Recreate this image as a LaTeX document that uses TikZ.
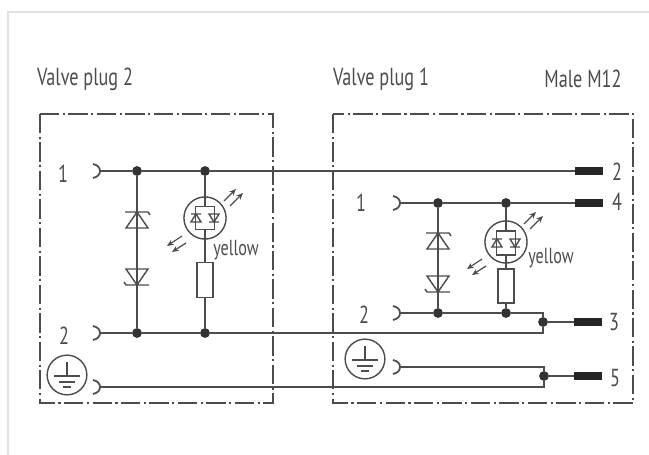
\documentclass[tikz,border=0pt]{standalone}
\usepackage{fontspec}
\setmainfont[FakeStretch=0.74]{PT Sans}
\usetikzlibrary{arrows.meta}
\definecolor{inkgrey}{gray}{0.3}
\tikzset{
  wire/.style={draw=inkgrey,line width=1pt},
  thin wire/.style={draw=inkgrey,line width=0.8pt},
  plugbox/.style={draw=inkgrey,line width=0.75pt,dash pattern=on 11pt off 2pt on 1.2pt off 2pt},
  dot/.style={circle,fill=black!80,inner sep=0pt,minimum size=5.6pt},
  pin/.style={rectangle,fill=black!85,inner sep=0pt,minimum width=16pt,minimum height=4.4pt},
  plain/.style={rectangle,draw=inkgrey,fill=white,line width=0.8pt,inner sep=0pt},
  tag/.style={text=inkgrey,inner sep=0pt,font={\fontsize{14}{16}\selectfont}},
  note/.style={text=inkgrey,inner sep=0pt,font={\fontsize{12.4}{14}\selectfont}},
  earth/.style={circle,draw=inkgrey,line width=0.8pt,inner sep=0pt,minimum size=22.6pt},
  ring/.style={circle,draw=inkgrey,line width=0.8pt,inner sep=0pt,minimum size=24pt},
  ray/.style={draw=inkgrey,line width=0.7pt,-{Stealth[length=3.8pt,width=3.2pt]}},
  socketend/.pic={\draw[wire] (-7,-7) .. controls (-2,-6) and (0,-3) .. (0,0) .. controls (0,3) and (-2,6) .. (-7,7);},
  zenerup/.pic={\draw[thin wire] (-11,16) -- (0,0) -- (11,16) -- cycle (-12,0) -- (11,0) -- (13,3);},
  zenerdown/.pic={\draw[thin wire] (-11,-16) -- (0,0) -- (11,-16) -- cycle (-13,-3) -- (-11,0) -- (12,0);},
  groundsign/.pic={\draw[thin wire] (0,-13) -- (0,1) (-13,1) -- (13,1) (-8,7) -- (8,7) (-4,12) -- (4,12);},
  minidiodes/.pic={\draw[thin wire] (-14,-4) -- (-4,-4) (-9,-4) -- (-14,4) -- (-4,4) -- cycle
    (4,-4) -- (14,-4) -- (9,4) -- cycle (4,4) -- (14,4);},
  lightrays/.pic={\draw[ray] (-9,8) -- (3,-4); \draw[ray] (-3,13) -- (10,0);},
  lightraysback/.pic={\draw[ray] (6,-8) -- (-9,2); \draw[ray] (10,-1) -- (-4,8);}
}
\begin{document}
\begin{tikzpicture}[x=0.02cm,y=-0.02cm]
\useasboundingbox (0,0) rectangle (649,455);
\draw[black!12,line width=0.9pt] (649,12) -- (8,12) -- (8,455);
% boxes
\draw[plugbox] (40,114) rectangle (273,403);
\draw[plugbox] (333,114) rectangle (633,403);
\node (titletwo) at (85,79) [tag] {Valve plug 2};
\node (titleone) at (381,79) [tag] {Valve plug 1};
\node (titlemale) at (583,79) [tag] {Male M12};
% plug 2
\coordinate (socktwoa) at (100,171);
\coordinate (socktwob) at (100,333);
\coordinate (socktwoe) at (100,387);
\node (jtwoa) at (137,171) [dot] {};
\node (jtwob) at (205,171) [dot] {};
\node (jtwoc) at (137,333) [dot] {};
\node (jtwod) at (205,333) [dot] {};
\node (ledtwo) at (205,218) [rectangle,draw=inkgrey,line width=0.8pt,inner sep=0pt,minimum width=11pt,minimum height=13pt] {};
\node (ringtwo) at (205,218) [ring] {};
\node (restwo) at (205,280) [plain,minimum width=9pt,minimum height=20pt] {};
\node (earthtwo) at (67,375) [earth] {};
\node (numtwoa) at (63,174) [tag] {1};
\node (numtwob) at (64,336) [tag] {2};
\node (yellowtwo) at (236,250) [note] {yellow};
% plug 1
\coordinate (sockonea) at (400,203);
\coordinate (sockoneb) at (400,313);
\coordinate (sockonee) at (400,367);
\node (jonea) at (438,203) [dot] {};
\node (joneb) at (506,203) [dot] {};
\node (jonec) at (438,313) [dot] {};
\node (joned) at (506,313) [dot] {};
\node (ledone) at (506,243) [rectangle,draw=inkgrey,line width=0.8pt,inner sep=0pt,minimum width=11pt,minimum height=13.5pt] {};
\node (ringone) at (506,242) [ring] {};
\node (resone) at (506,286) [plain,minimum width=9pt,minimum height=19.5pt] {};
\node (earthone) at (365,359) [earth] {};
\node (numonea) at (361,203) [tag] {1};
\node (numoneb) at (364,315) [tag] {2};
\node (yellowone) at (551,258) [note] {yellow};
% male side
\node (jmalea) at (543,322) [dot] {};
\node (jmaleb) at (544,376) [dot] {};
\node (pintwo) at (589,171) [pin] {};
\node (pinfour) at (589,203) [pin] {};
\node (pinthree) at (588,322) [pin] {};
\node (pinfive) at (588,376) [pin] {};
\node (numpa) at (617,172) [tag] {2};
\node (numpb) at (617,202) [tag] {4};
\node (numpc) at (614,322) [tag] {3};
\node (numpd) at (615,378) [tag] {5};
% wires
\draw[wire] (socktwoa) -- (jtwoa) -- (jtwob) -- (pintwo);
\draw[wire] (socktwob) -- (jtwoc) -- (jtwod) -- (jtwod -| jmalea) -- (jmalea);
\draw[wire] (socktwoe) -- (socktwoe -| jmaleb) -- (jmaleb);
\draw[thin wire] (jtwoa) -- (jtwoc);
\draw[thin wire] (jtwob) -- (ledtwo) -- (restwo) -- (jtwod);
\draw[wire] (sockonea) -- (jonea) -- (joneb) -- (pinfour);
\draw[wire] (sockoneb) -- (jonec) -- (joned) -- (joned -| jmalea) -- (jmalea);
\draw[wire] (sockonee) -- (sockonee -| jmaleb) -- (jmaleb);
\draw[thin wire] (jonea) -- (jonec);
\draw[thin wire] (joneb) -- (ledone) -- (resone) -- (joned);
\draw[thin wire] (jmalea) -- (pinthree);
\draw[thin wire] (jmaleb) -- (pinfive);
% symbols
\pic at (socktwoa) {socketend};
\pic at (socktwob) {socketend};
\pic at (socktwoe) {socketend};
\pic at (sockonea) {socketend};
\pic at (sockoneb) {socketend};
\pic at (sockonee) {socketend};
\pic at (137,212) {zenerup};
\pic at (137,285) {zenerdown};
\pic at (438,233) {zenerup};
\pic at (438,292) {zenerdown};
\pic at (ledtwo) {minidiodes};
\pic at (ledone) {minidiodes};
\pic at (233,193) {lightrays};
\pic at (176,244) {lightraysback};
\pic at (533,216) {lightrays};
\pic at (476,267) {lightraysback};
\pic at (earthtwo) {groundsign};
\pic at (earthone) {groundsign};
\end{tikzpicture}
\end{document}
